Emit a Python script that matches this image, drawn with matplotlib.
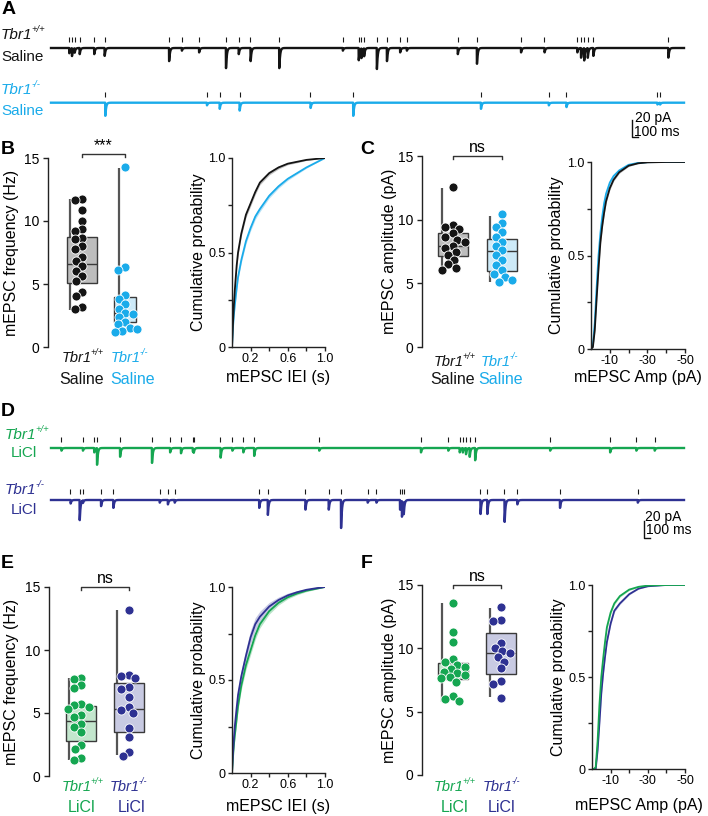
import numpy as np
import matplotlib
matplotlib.use("Agg")
import matplotlib.pyplot as plt

plt.rcParams['font.family'] = ['Liberation Sans', 'DejaVu Sans']
plt.rcParams['axes.linewidth'] = 1.0

# ---------------- data ----------------
TRACE_MS = 11310
# Panel A: event times (ms) and amplitudes (pA)
wt_sal_ev_ms = [323, 372, 421, 510, 770, 957, 2109, 2337, 2645, 3125, 3352, 3563, 4075, 5212, 5495,
                5544, 5593, 5820, 5999, 6235, 6356, 7266, 7607, 8395, 8817, 9402, 9468, 9524, 9589,
                9687, 11027]
wt_sal_ev_pA = [6, 9, 5, 7, 7, 9, 15, 3, 5, 23, 7, 15, 23, 3, 14,
                11, 9, 24, 15, 5, 3, 7, 18, 5, 5, 5, 11, 14, 11,
                9, 11]
ko_sal_ev_ms = [967, 2783, 3011, 3368, 4635, 5398, 7681, 8891, 9207, 10832, 10880]
ko_sal_ev_pA = [15, 3, 7, 9, 6, 15, 7, 3, 5, 2, 2]
# Panel D
wt_li_ev_ms = [185, 568, 770, 819, 1233, 1802, 2126, 2321, 2532, 2548, 3028, 3238, 3434, 3628, 4790,
               6608, 7096, 7300, 7356, 7413, 7478, 7575, 8915, 9987, 10457, 10783]
wt_li_ev_pA = [3, 3, 5, 19, 10, 17, 5, 6, 4, 4, 11, 3, 5, 9, 3,
               5, 3, 5, 5, 7, 10, 14, 3, 5, 3, 3]
ko_li_ev_ms = [347, 510, 568, 892, 1111, 1940, 2086, 2208, 3718, 3871, 4545, 4959, 5179, 5657, 5812,
               6234, 6267, 6300, 7673, 7794, 8102, 8330, 9093, 10482]
ko_li_ev_pA = [4, 23, 3, 7, 9, 3, 5, 3, 9, 17, 11, 11, 32, 3, 3,
               11, 18, 14, 16, 16, 25, 5, 9, 3]

# Box plots: per-cell values and box stats [whisker low, Q1, median, Q3, whisker high]
freq_wt_sal = [11.75, 11.65, 10.85, 10.0, 9.35, 9.2, 8.65, 8.55, 8.0, 7.75, 7.15, 6.8, 6.4, 6.0,
               5.6, 5.2, 4.4, 4.05, 3.15, 3.0]
freq_ko_sal = [14.25, 6.35, 6.1, 4.1, 3.8, 3.4, 3.0, 2.7, 2.6, 2.4, 2.0, 1.8, 1.5, 1.4, 1.3, 1.2]
freq_wt_sal_box = [2.92, 5.1, 6.6, 8.73, 11.73]
freq_ko_sal_box = [1.15, 1.96, 2.7, 4.0, 14.2]

amp_wt_sal = [12.56, 9.57, 9.39, 9.23, 8.92, 8.65, 8.44, 8.26, 7.97, 7.74, 7.45, 7.21, 6.87, 6.5,
              6.22, 6.08]
amp_ko_sal = [10.44, 9.76, 9.44, 9.05, 8.65, 8.26, 7.92, 7.6, 7.21, 6.82, 6.43, 6.03, 5.77, 5.51,
              5.3, 5.11]
amp_wt_sal_box = [6.08, 7.16, 7.97, 8.92, 12.5]
amp_ko_sal_box = [5.11, 5.95, 7.53, 8.52, 10.3]

freq_wt_li = [7.79, 7.66, 7.2, 7.0, 5.68, 5.6, 5.5, 5.28, 4.83, 4.65, 4.12, 3.86, 3.51, 2.46, 2.14,
              1.4, 1.27]
freq_ko_li = [13.15, 8.05, 7.92, 7.74, 7.08, 6.94, 6.28, 5.49, 5.23, 5.02, 3.78, 3.12, 1.87, 1.58]
freq_wt_li_box = [1.27, 2.77, 4.38, 5.55, 7.74]
freq_ko_li_box = [1.66, 3.46, 5.28, 7.42, 13.15]

amp_wt_li = [13.6, 11.26, 10.5, 9.13, 8.95, 8.68, 8.55, 8.34, 8.16, 8.03, 7.89, 7.76, 7.63, 7.37,
             6.24, 5.97, 5.84]
amp_ko_li = [13.29, 12.24, 12.18, 10.39, 10.0, 9.82, 9.66, 9.34, 8.95, 8.42, 7.45, 7.18, 6.1]
amp_wt_li_box = [5.79, 7.55, 7.97, 8.87, 13.55]
amp_ko_li_box = [6.18, 7.95, 9.6, 11.18, 13.2]

# Cumulative distributions
iei_s = [0, 0.005, 0.01, 0.02, 0.03, 0.05, 0.065, 0.1, 0.15, 0.2, 0.25, 0.3, 0.4, 0.5, 0.6, 0.7,
         0.8, 0.9, 1.0]
cdf_iei_wt_sal = [0, 0.06, 0.12, 0.22, 0.30, 0.43, 0.50, 0.60, 0.70, 0.76, 0.82, 0.87, 0.92, 0.95,
                  0.97, 0.98, 0.99, 0.995, 1.0]
cdf_iei_ko_sal = [0, 0.05, 0.10, 0.17, 0.22, 0.31, 0.37, 0.46, 0.56, 0.63, 0.69, 0.73, 0.80, 0.85,
                  0.89, 0.92, 0.95, 0.975, 1.0]
sem_iei_wt_sal = [0, 0.005, 0.008, 0.01, 0.012, 0.013, 0.014, 0.015, 0.015, 0.015, 0.014, 0.012,
                  0.01, 0.008, 0.006, 0.005, 0.003, 0.002, 0]
sem_iei_ko_sal = [0, 0.005, 0.008, 0.01, 0.012, 0.013, 0.014, 0.015, 0.015, 0.015, 0.015, 0.014,
                  0.012, 0.01, 0.008, 0.006, 0.004, 0.002, 0]
cdf_iei_wt_li = [0, 0.04, 0.08, 0.15, 0.20, 0.29, 0.36, 0.47, 0.58, 0.66, 0.74, 0.80, 0.87, 0.915,
                 0.945, 0.965, 0.98, 0.99, 1.0]
cdf_iei_ko_li = [0, 0.05, 0.10, 0.18, 0.25, 0.35, 0.42, 0.52, 0.63, 0.73, 0.80, 0.84, 0.895, 0.93,
                 0.955, 0.972, 0.985, 0.993, 1.0]
sem_iei_wt_li = [0, 0.006, 0.01, 0.014, 0.016, 0.018, 0.02, 0.022, 0.024, 0.024, 0.022, 0.02,
                 0.016, 0.012, 0.009, 0.007, 0.005, 0.003, 0]
sem_iei_ko_li = [0, 0.01, 0.015, 0.02, 0.025, 0.03, 0.032, 0.035, 0.038, 0.038, 0.035, 0.03,
                 0.022, 0.016, 0.012, 0.008, 0.005, 0.003, 0]

amp_pA = [0, -1, -2, -3, -4, -5, -6, -7, -8, -10, -12, -15, -20, -25, -30, -40, -50]
cdf_amp_wt_sal = [0, 0.01, 0.10, 0.27, 0.43, 0.57, 0.66, 0.73, 0.79, 0.86, 0.905, 0.945, 0.98,
                  0.993, 0.998, 1, 1]
cdf_amp_ko_sal = [0, 0.02, 0.14, 0.33, 0.50, 0.62, 0.71, 0.78, 0.83, 0.89, 0.925, 0.955, 0.985,
                  0.995, 0.999, 1, 1]
cdf_amp_wt_li = [0, 0, 0.01, 0.15, 0.35, 0.50, 0.60, 0.69, 0.77, 0.85, 0.90, 0.94, 0.975, 0.99,
                 0.997, 1, 1]
cdf_amp_ko_li = [0, 0, 0, 0.10, 0.25, 0.41, 0.52, 0.61, 0.69, 0.79, 0.86, 0.90, 0.95, 0.98, 0.993,
                 1, 1]
sem_amp = [0, 0.004, 0.008, 0.01, 0.012, 0.012, 0.012, 0.012, 0.012, 0.01, 0.008, 0.006, 0.004,
           0.002, 0.001, 0, 0]

# colours
BLACK = '#141414'
BLUE = '#1aabea'
GREEN = '#15a651'
NAVY = '#2e3192'
FILL_BLACK = '#bdbdbd'
FILL_BLUE = '#cdeaf8'
FILL_GREEN = '#c3e6cd'
FILL_NAVY = '#c8cae2'
BAND_BLACK = '#b4b4b4'
BAND_BLUE = '#a6dbf4'
BAND_GREEN = '#a9ddbb'
BAND_NAVY = '#b9bcdd'
EDGE = '#3a3a3a'

# ---------------- figure ----------------
W, H = 708, 816
fig = plt.figure(figsize=(W / 100, H / 100), dpi=100)


def px_ax(l, t, r, b):
    return fig.add_axes([l / W, 1 - b / H, (r - l) / W, (b - t) / H])


def ftext(xp, yp, s, **kw):
    kw.setdefault('va', 'center')
    return fig.text(xp / W, 1 - yp / H, s, **kw)


def geno(host_ax, xp, yp, sup, color, ha='center', size=11):
    shift = -5 if ha == 'center' else 0
    t = ftext(xp + shift, yp, 'Tbr1', style='italic', color=color, fontsize=size, ha=ha)
    host_ax.annotate(sup, xy=(1.0, 0.55), xycoords=t, xytext=(-1.0, 0), textcoords='offset points',
                     fontsize=size * 0.62, style='italic', color=color, ha='left', va='bottom',
                     annotation_clip=False)


def panel_letter(xp, yp, s):
    ftext(xp, yp, s, fontsize=14, fontweight='bold', ha='center')


# ---------- trace panels ----------
TR_X0, TR_X1 = 51, 684           # px span of the traces
PX_PER_MS = (TR_X1 - TR_X0) / TRACE_MS
PX_PER_PA = 17.5 / 20.0


def trace_axes(top, bottom, base_px):
    ax = px_ax(0, top, W, bottom)
    ax.set_xlim(-TR_X0 / PX_PER_MS, (W - TR_X0) / PX_PER_MS)
    ax.set_ylim(-(bottom - base_px) / PX_PER_PA, (base_px - top) / PX_PER_PA)
    ax.axis('off')
    return ax


def draw_trace(ax, ev_ms, ev_pA, base, color):
    dt = 2.0
    t = np.arange(0, TRACE_MS + dt, dt)
    kt = np.arange(0, 300, dt)
    kern = np.exp(-kt / 14.0) - np.exp(-kt / 1.0)
    kern /= kern.max()
    y = np.zeros_like(t)
    for tm, a in zip(ev_ms, ev_pA):
        i = int(round(tm / dt))
        n = min(len(kern), len(t) - i)
        y[i:i + n] -= a * kern[:n]
    ax.plot(t, base + y, color=color, lw=1.7, solid_joinstyle='round')
    ax.vlines(ev_ms, base + 7, base + 12.5, color='#1a1a1a', lw=0.8)


def scale_bar(ax, corner_px, base_px, text_px):
    cx, cy = corner_px
    x0 = (cx - TR_X0) / PX_PER_MS
    y0 = -(cy - base_px) / PX_PER_PA
    ax.plot([x0, x0, x0 + 100], [y0 + 20, y0, y0], color='#111111', lw=1.0, clip_on=False)
    (tx1, ty1), (tx2, ty2) = text_px
    ftext(tx1, ty1, '20 pA', fontsize=10, ha='left')
    ftext(tx2, ty2, '100 ms', fontsize=10, ha='left')


# Panel A
axA = trace_axes(18, 145, 48)
draw_trace(axA, wt_sal_ev_ms, wt_sal_ev_pA, 0, BLACK)
draw_trace(axA, ko_sal_ev_ms, ko_sal_ev_pA, -(102.7 - 48) / PX_PER_PA, BLUE)
scale_bar(axA, (632, 137.3), 48, ((635, 118), (634, 131.5)))
panel_letter(9, 10, 'A')
geno(axA, 1, 35, '+/+', BLACK, ha='left')
ftext(1, 57, 'Saline', fontsize=11, color=BLACK, ha='left')
geno(axA, 1, 90, '-/-', BLUE, ha='left')
ftext(1, 111, 'Saline', fontsize=11, color=BLUE, ha='left')

# Panel D
axD = trace_axes(418, 545, 448)
draw_trace(axD, wt_li_ev_ms, wt_li_ev_pA, 0, GREEN)
draw_trace(axD, ko_li_ev_ms, ko_li_ev_pA, -(500 - 448) / PX_PER_PA, NAVY)
scale_bar(axD, (644, 538), 448, ((645, 517), (646, 530.5)))
panel_letter(8, 412, 'D')
geno(axD, 5, 435, '+/+', GREEN, ha='left')
ftext(11, 453, 'LiCl', fontsize=11, color=GREEN, ha='left')
geno(axD, 5, 490, '-/-', NAVY, ha='left')
ftext(11, 510, 'LiCl', fontsize=11, color=NAVY, ha='left')


# ---------- shared helpers ----------
def ylabel_px(ax, rect, center_px, text):
    l, t, r, b = rect
    ax.set_ylabel(text, fontsize=11.5)
    ax.yaxis.set_label_coords((center_px + 9 - l) / (r - l), 0.5)


def swarm(rect, xlim, vals, diam=7.0):
    l, t, r, b = rect
    xpu = (r - l) / (xlim[1] - xlim[0])
    ypu = (b - t) / 15.0
    order = np.argsort(vals)[::-1]
    placed = []
    offs = np.zeros(len(vals))
    cands = [0.0]
    for k in range(1, 40):
        cands += [-1.5 * k, 1.5 * k]
    for i in order:
        yp = vals[i] * ypu
        for c in cands:
            if all((c - ox) ** 2 + (yp - oy) ** 2 >= diam ** 2 for ox, oy in placed):
                break
        placed.append((c, yp))
        offs[i] = c / xpu
    return offs


def box_panel(rect, xlim, groups, ylabel, ylab_center, bracket_y, sig, cat_labels):
    ax = px_ax(*rect)
    ax.set_xlim(*xlim)
    ax.set_ylim(0, 15)
    for sp in ['top', 'right', 'bottom']:
        ax.spines[sp].set_visible(False)
    ax.spines['left'].set_color('#222222')
    ax.set_xticks([])
    ax.set_yticks([0, 5, 10, 15])
    ax.tick_params(axis='y', labelsize=10, length=3.5, width=1.0, color='#222222', pad=3)
    for pos, vals, stats, color, fill, width, woff in groups:
        lo, q1, med, q3, hi = stats
        ax.vlines(pos + woff, lo, hi, color='#555555', lw=1.6, zorder=1)
        ax.bar(pos, q3 - q1, bottom=q1, width=width, color=fill, edgecolor=EDGE, lw=1.0, zorder=2)
        ax.hlines(med, pos - width / 2, pos + width / 2, color=EDGE, lw=1.0, zorder=3)
        offs = swarm(rect, xlim, np.array(vals))
        ax.scatter(pos + offs, vals, s=42, color=color, edgecolors='white', linewidths=0.6,
                   zorder=4, clip_on=False)
    ylabel_px(ax, rect, ylab_center, ylabel)
    p1, p2 = groups[0][0], groups[1][0]
    ax.plot([p1, p1, p2, p2], [bracket_y - 0.2, bracket_y, bracket_y, bracket_y - 0.2],
            color='#333333', lw=1.0, clip_on=False)
    ax.text((p1 + p2) / 2, bracket_y + 0.1, sig, ha='center', va='bottom', fontsize=11.5)
    for xp, yp, kind, color, txt in cat_labels:
        if kind == 'geno':
            geno(ax, xp, yp, txt, color, size=10.5)
        else:
            ftext(xp, yp, txt, fontsize=11.5, color=color, ha='center')
    return ax


# Panel B
rectB = (48, 158, 160, 347)
box_panel(rectB, (0.209, 2.814),
          [(1, freq_wt_sal, freq_wt_sal_box, BLACK, FILL_BLACK, 0.70, -0.27),
           (2, freq_ko_sal, freq_ko_sal_box, BLUE, FILL_BLUE, 0.50, -0.15)],
          'mEPSC frequency (Hz)', 10, 15.3, '***',
          [(82, 358, 'geno', BLACK, '+/+'), (82, 379, 'txt', BLACK, 'Saline'),
           (131, 358, 'geno', BLUE, '-/-'), (133, 379, 'txt', BLUE, 'Saline')])
panel_letter(8, 150, 'B')

# Panel C
rectC = (422, 156, 545, 347)
box_panel(rectC, (0.367, 2.88),
          [(1, amp_wt_sal, amp_wt_sal_box, BLACK, FILL_BLACK, 0.63, -0.23),
           (2, amp_ko_sal, amp_ko_sal_box, BLUE, FILL_BLUE, 0.63, -0.245)],
          'mEPSC amplitude (pA)', 388, 15.0, 'ns',
          [(454, 362, 'geno', BLACK, '+/+'), (453, 379, 'txt', BLACK, 'Saline'),
           (501, 362, 'geno', BLUE, '-/-'), (501, 379, 'txt', BLUE, 'Saline')])
panel_letter(367, 150, 'C')

# Panel E
rectE = (49, 587, 160, 776)
box_panel(rectE, (0.333, 2.646),
          [(1, freq_wt_li, freq_wt_li_box, GREEN, FILL_GREEN, 0.625, -0.24),
           (2, freq_ko_li, freq_ko_li_box, NAVY, FILL_NAVY, 0.625, -0.24)],
          'mEPSC frequency (Hz)', 10, 15.0, 'ns',
          [(82, 787, 'geno', GREEN, '+/+'), (82, 807, 'txt', GREEN, 'LiCl'),
           (130, 787, 'geno', NAVY, '-/-'), (132, 807, 'txt', NAVY, 'LiCl')])
panel_letter(7, 563, 'E')

# Panel F
rectF = (422, 585, 545, 775)
box_panel(rectF, (0.354, 2.92),
          [(1, amp_wt_li, amp_wt_li_box, GREEN, FILL_GREEN, 0.64, -0.235),
           (2, amp_ko_li, amp_ko_li_box, NAVY, FILL_NAVY, 0.64, -0.23)],
          'mEPSC amplitude (pA)', 388, 15.0, 'ns',
          [(454, 787, 'geno', GREEN, '+/+'), (455, 807, 'txt', GREEN, 'LiCl'),
           (503, 787, 'geno', NAVY, '-/-'), (502, 807, 'txt', NAVY, 'LiCl')])
panel_letter(367, 563, 'F')


# ---------- cumulative panels ----------
def cdf_panel(rect, x, curves, xlim, xticks, xticklabels, xlabel, ylab_center, xlab_center):
    ax = px_ax(*rect)
    ax.set_xlim(*xlim)
    ax.set_ylim(0, 1)
    for sp in ['top', 'right']:
        ax.spines[sp].set_visible(False)
    for sp in ['left', 'bottom']:
        ax.spines[sp].set_color('#222222')
    ax.set_yticks([0, 0.25, 0.5, 0.75, 1.0])
    ax.set_yticklabels(['0', '', '0.5', '', '1.0'])
    ax.set_xticks(xticks)
    ax.set_xticklabels(xticklabels)
    ax.tick_params(labelsize=9, length=3, width=1.0, color='#222222', pad=1.5)
    for y, sem, color, band in curves:
        y = np.array(y)
        sem = np.array(sem)
        ax.fill_between(x, np.clip(y - sem, 0, 1), np.clip(y + sem, 0, 1), color=band,
                        lw=0, alpha=0.8, zorder=1)
        ax.plot(x, y, color=color, lw=1.3, zorder=2, solid_joinstyle='round')
    ylabel_px(ax, rect, ylab_center, 'Cumulative probability')
    ax.set_xlabel(xlabel, fontsize=11.5)
    l, t, r, b = rect
    ax.xaxis.set_label_coords(0.5, -(xlab_center - 9 - b) / (b - t))
    return ax


iei_ticks = [0.2, 0.4, 0.6, 0.8, 1.0]
iei_labels = ['0.2', '', '0.6', '', '1.0']
amp_ticks = [-10, -20, -30, -40, -50]
amp_labels = ['-10', '', '-30', '', '-50']

cdf_panel((232, 158, 325, 347), iei_s,
          [(cdf_iei_ko_sal, sem_iei_ko_sal, BLUE, BAND_BLUE),
           (cdf_iei_wt_sal, sem_iei_wt_sal, BLACK, BAND_BLACK)],
          (0, 1.0), iei_ticks, iei_labels, 'mEPSC IEI (s)', 197, 379)
cdf_panel((591, 162, 685, 349), amp_pA,
          [(cdf_amp_ko_sal, sem_amp, BLUE, BAND_BLUE),
           (cdf_amp_wt_sal, sem_amp, BLACK, BAND_BLACK)],
          (0, -50), amp_ticks, amp_labels, 'mEPSC Amp (pA)', 555, 379)
cdf_panel((232, 587, 325, 773), iei_s,
          [(cdf_iei_wt_li, sem_iei_wt_li, GREEN, BAND_GREEN),
           (cdf_iei_ko_li, sem_iei_ko_li, NAVY, BAND_NAVY)],
          (0, 1.0), iei_ticks, iei_labels, 'mEPSC IEI (s)', 197, 808)
cdf_panel((592, 585, 685, 769), amp_pA,
          [(cdf_amp_ko_li, sem_amp, NAVY, BAND_NAVY),
           (cdf_amp_wt_li, sem_amp, GREEN, BAND_GREEN)],
          (0, -50), amp_ticks, amp_labels, 'mEPSC Amp (pA)', 557, 807)

fig.savefig('out.png', dpi=100)
